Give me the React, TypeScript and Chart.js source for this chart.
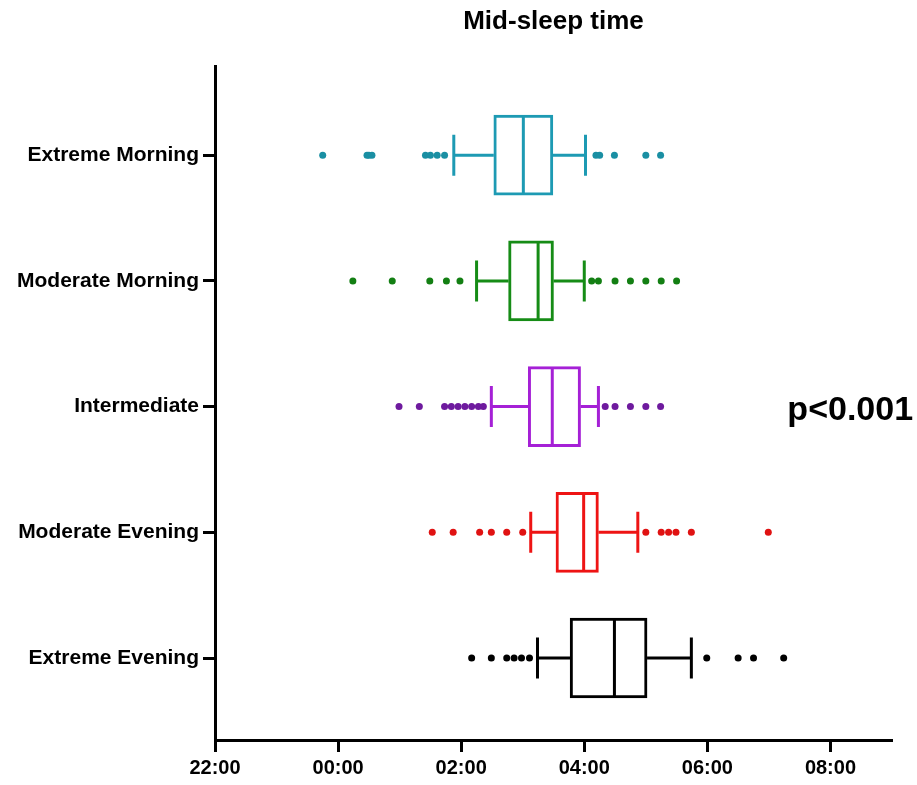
import React, { useEffect, useRef } from 'react';
import { Chart, registerables } from 'chart.js';

Chart.register(...registerables);

// Categories (top to bottom)
const categories = ['Extreme Morning', 'Moderate Morning', 'Intermediate', 'Moderate Evening', 'Extreme Evening'];

// Box-plot statistics, in hours relative to midnight (negative = before 00:00)
const whiskerLow = [1.88, 2.25, 2.49, 3.13, 3.24];
const quartile1 = [2.53, 2.77, 3.09, 3.54, 3.77];
const medians = [3.01, 3.25, 3.48, 3.99, 4.49];
const quartile3 = [3.49, 3.50, 3.94, 4.23, 5.02];
const whiskerHigh = [4.02, 4.00, 4.23, 4.87, 5.74];

// Outliers per group
const outliersExtremeMorning = [-0.25, 0.47, 0.50, 0.55, 1.42, 1.50, 1.61, 1.73, 4.19, 4.25, 4.49, 5.00, 5.24];
const outliersModerateMorning = [0.24, 0.88, 1.49, 1.76, 1.98, 4.12, 4.23, 4.50, 4.75, 5.00, 5.25, 5.50];
const outliersIntermediate = [0.99, 1.32, 1.73, 1.84, 1.95, 2.06, 2.17, 2.28, 2.36, 4.34, 4.50, 4.75, 5.00, 5.24];
const outliersModerateEvening = [1.53, 1.87, 2.30, 2.49, 2.74, 3.00, 5.00, 5.25, 5.37, 5.49, 5.74, 6.99];
const outliersExtremeEvening = [2.17, 2.49, 2.74, 2.86, 2.98, 3.11, 5.99, 6.50, 6.75, 7.24];
const outlierGroups = [
  outliersExtremeMorning,
  outliersModerateMorning,
  outliersIntermediate,
  outliersModerateEvening,
  outliersExtremeEvening,
];

// X axis ticks
const xTickValues = [-2, 0, 2, 4, 6, 8];
const xTickLabels = ['22:00', '00:00', '02:00', '04:00', '06:00', '08:00'];

const titleText = 'Mid-sleep time';
const pValueText = 'p<0.001';

const boxColors = ['#1d9ab3', '#168c16', '#a520d6', '#ee1414', '#000000'];
const dotColors = ['#1a8fa3', '#137f13', '#6e1a9e', '#e01212', '#000000'];

const FONT = '"Liberation Sans", Arial, Helvetica, sans-serif';

const pValuePlugin = {
  id: 'pValue',
  afterDraw(chart: any) {
    const { ctx } = chart;
    const y = chart.scales.y.getPixelForValue(2);
    const x = chart.scales.x.getPixelForValue(7.3);
    ctx.save();
    ctx.font = `bold 34px ${FONT}`;
    ctx.fillStyle = '#000';
    ctx.textAlign = 'left';
    ctx.textBaseline = 'alphabetic';
    ctx.fillText(pValueText, x, y + 13);
    ctx.restore();
  },
};

export default function App() {
  const canvasRef = useRef<HTMLCanvasElement | null>(null);

  useEffect(() => {
    if (!canvasRef.current) return;
    const datasets: any[] = [];

    datasets.push({
      type: 'bar',
      label: 'boxes',
      indexAxis: 'y',
      data: categories.map((_, i) => ({ x: [quartile1[i], quartile3[i]], y: i })),
      backgroundColor: '#ffffff',
      borderColor: boxColors,
      borderWidth: 3,
      borderSkipped: false,
      barThickness: 80,
      grouped: false,
      order: 5,
    });

    categories.forEach((cat, i) => {
      datasets.push({
        type: 'scatter',
        label: cat + ' whiskers',
        data: [
          { x: whiskerLow[i], y: i },
          { x: quartile1[i], y: i },
          { x: null, y: i },
          { x: quartile3[i], y: i },
          { x: whiskerHigh[i], y: i },
        ],
        showLine: true,
        spanGaps: false,
        borderColor: boxColors[i],
        borderWidth: 3,
        pointRadius: 0,
        order: 4,
      });
      datasets.push({
        type: 'scatter',
        label: cat + ' caps',
        data: [
          { x: whiskerLow[i], y: i },
          { x: whiskerHigh[i], y: i },
        ],
        pointStyle: 'line',
        pointRotation: 90,
        pointRadius: 20.5,
        pointBorderWidth: 3,
        pointBorderColor: boxColors[i],
        borderColor: boxColors[i],
        order: 3,
      });
      datasets.push({
        type: 'scatter',
        label: cat + ' median',
        data: [{ x: medians[i], y: i }],
        pointStyle: 'line',
        pointRotation: 90,
        pointRadius: 39,
        pointBorderWidth: 3,
        pointBorderColor: boxColors[i],
        borderColor: boxColors[i],
        order: 2,
      });
      datasets.push({
        type: 'scatter',
        label: cat + ' outliers',
        data: outlierGroups[i].map((v) => ({ x: v, y: i })),
        pointStyle: 'circle',
        pointRadius: 3.5,
        pointBorderWidth: 0,
        pointBackgroundColor: dotColors[i],
        pointBorderColor: dotColors[i],
        order: 1,
      });
    });

    const chart = new Chart(canvasRef.current, {
      type: 'scatter',
      data: { datasets },
      plugins: [pValuePlugin],
      options: {
        animation: false,
        responsive: false,
        devicePixelRatio: 1,
        layout: { autoPadding: false, padding: { top: 0, right: 25, bottom: 0, left: 0 } },
        plugins: {
          legend: { display: false },
          tooltip: { enabled: false },
          title: {
            display: true,
            text: titleText,
            fullSize: false,
            color: '#000',
            font: { family: FONT, size: 26, weight: 'bold' },
            padding: { top: 6, bottom: 29 },
          },
        },
        scales: {
          x: {
            type: 'linear',
            position: 'bottom',
            min: -2,
            max: 9,
            offset: false,
            afterBuildTicks: (s: any) => {
              s.ticks = xTickValues.map((v) => ({ value: v }));
            },
            afterFit: (s: any) => {
              s.height = 45;
              s.paddingLeft = 0;
              s.paddingRight = 0;
            },
            ticks: {
              includeBounds: false,
              stepSize: 2,
              color: '#000',
              padding: 4,
              maxRotation: 0,
              font: { family: FONT, size: 20, weight: 'bold' },
              callback: (v: any) => {
                const idx = xTickValues.indexOf(Number(v));
                return idx >= 0 ? xTickLabels[idx] : '';
              },
            },
            grid: {
              display: true,
              offset: false,
              drawOnChartArea: false,
              drawTicks: true,
              tickLength: 12,
              tickWidth: 3,
              tickColor: '#000',
            },
            border: { display: true, color: '#000', width: 3 },
          },
          y: {
            type: 'linear',
            reverse: true,
            min: -0.708,
            max: 4.652,
            offset: false,
            afterBuildTicks: (s: any) => {
              s.ticks = categories.map((_, i) => ({ value: i }));
            },
            afterFit: (s: any) => {
              s.width = 215;
              s.paddingTop = 0;
              s.paddingBottom = 0;
            },
            ticks: {
              color: '#000',
              padding: 4,
              autoSkip: false,
              font: { family: FONT, size: 21, weight: 'bold' },
              callback: (v: any) => categories[Number(v)] ?? '',
            },
            grid: {
              display: true,
              offset: false,
              drawOnChartArea: false,
              drawTicks: true,
              tickLength: 12,
              tickWidth: 3,
              tickColor: '#000',
            },
            border: { display: true, color: '#000', width: 3 },
          },
        },
      },
    } as any);

    return () => {
      chart.destroy();
    };
  }, []);

  return (
    <div style={{ position: 'absolute', left: 0, top: 0, width: 917, height: 785, background: '#fff' }}>
      <canvas ref={canvasRef} width={917} height={785} style={{ display: 'block' }} />
    </div>
  );
}
